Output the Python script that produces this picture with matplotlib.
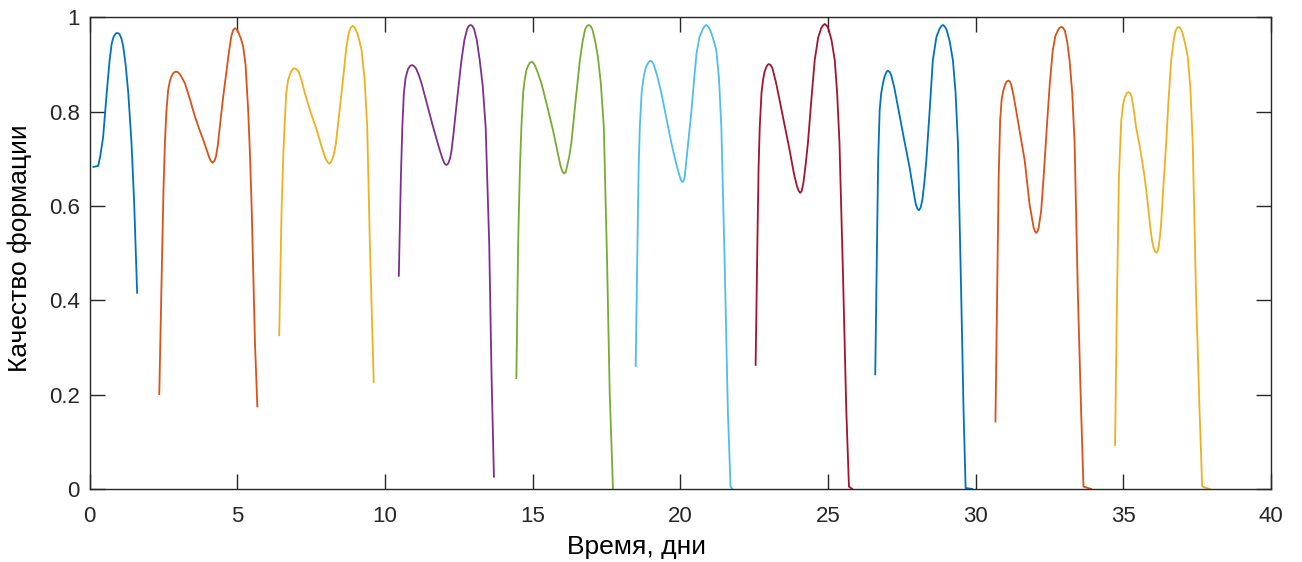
import numpy as np
import matplotlib.pyplot as plt

plt.rcParams['font.family'] = ['Liberation Sans', 'DejaVu Sans']

# Отрезки кривых (время, качество)
t1 = [0.13, 0.29, 0.36, 0.46, 0.58, 0.68, 0.75, 0.82, 0.89, 0.95, 1.01, 1.08, 1.14, 1.22, 1.31,
      1.42, 1.51, 1.61]
q1 = [0.683, 0.685, 0.705, 0.747, 0.84, 0.91, 0.945, 0.96, 0.966, 0.967, 0.965, 0.955, 0.938,
      0.9, 0.84, 0.733, 0.606, 0.416]

t2 = [2.36, 2.44, 2.5, 2.55, 2.6, 2.66, 2.72, 2.78, 2.85, 2.92, 2.99, 3.05, 3.13, 3.23, 3.4,
      3.57, 3.72, 3.85, 3.97, 4.05, 4.11, 4.17, 4.23, 4.28, 4.34, 4.41, 4.52, 4.64, 4.72, 4.8,
      4.86, 4.92, 4.98, 5.04, 5.12, 5.2, 5.28, 5.37, 5.43, 5.49, 5.6, 5.68]
q2 = [0.201, 0.45, 0.63, 0.733, 0.8, 0.846, 0.866, 0.876, 0.883, 0.885, 0.884, 0.88, 0.872,
      0.86, 0.826, 0.789, 0.762, 0.74, 0.718, 0.703, 0.695, 0.692, 0.696, 0.705, 0.728, 0.768,
      0.83, 0.888, 0.928, 0.96, 0.973, 0.977, 0.975, 0.968, 0.956, 0.938, 0.9, 0.803, 0.71,
      0.591, 0.309, 0.175]

t3 = [6.42, 6.5, 6.56, 6.61, 6.66, 6.72, 6.78, 6.83, 6.89, 6.95, 7.01, 7.08, 7.18, 7.29, 7.48,
      7.69, 7.86, 7.98, 8.05, 8.11, 8.17, 8.22, 8.28, 8.34, 8.46, 8.59, 8.69, 8.78, 8.84, 8.9,
      8.96, 9.03, 9.12, 9.21, 9.31, 9.4, 9.49, 9.62]
q3 = [0.326, 0.59, 0.71, 0.782, 0.84, 0.867, 0.879, 0.886, 0.891, 0.892, 0.89, 0.885, 0.866,
      0.839, 0.8, 0.761, 0.725, 0.702, 0.694, 0.690, 0.692, 0.700, 0.712, 0.733, 0.8, 0.874,
      0.935, 0.968, 0.978, 0.982, 0.98, 0.972, 0.955, 0.93, 0.87, 0.768, 0.52, 0.227]

t4 = [10.47, 10.54, 10.59, 10.64, 10.7, 10.78, 10.85, 10.92, 10.98, 11.05, 11.14, 11.24, 11.43,
      11.63, 11.82, 11.95, 12.02, 12.08, 12.14, 12.2, 12.25, 12.31, 12.45, 12.59, 12.69, 12.78,
      12.84, 12.9, 12.96, 13.02, 13.11, 13.21, 13.31, 13.41, 13.53, 13.61, 13.69]
q4 = [0.452, 0.662, 0.77, 0.839, 0.872, 0.89, 0.897, 0.899, 0.897, 0.892, 0.879, 0.86, 0.815,
      0.768, 0.726, 0.700, 0.690, 0.687, 0.690, 0.700, 0.716, 0.747, 0.83, 0.909, 0.952, 0.975,
      0.982, 0.984, 0.982, 0.975, 0.952, 0.909, 0.855, 0.768, 0.521, 0.238, 0.026]

t5 = [14.45, 14.51, 14.57, 14.62, 14.68, 14.73, 14.79, 14.85, 14.91, 14.96, 15.02, 15.08, 15.18,
      15.3, 15.5, 15.69, 15.84, 15.95, 16.01, 16.06, 16.12, 16.17, 16.24, 16.31, 16.45, 16.6,
      16.7, 16.78, 16.84, 16.9, 16.96, 17.02, 17.11, 17.21, 17.31, 17.41, 17.52, 17.61, 17.72]
q5 = [0.235, 0.521, 0.68, 0.768, 0.84, 0.867, 0.888, 0.898, 0.904, 0.906, 0.904, 0.898, 0.882,
      0.86, 0.81, 0.761, 0.716, 0.684, 0.673, 0.669, 0.672, 0.685, 0.705, 0.733, 0.82, 0.909,
      0.952, 0.975, 0.982, 0.984, 0.982, 0.975, 0.952, 0.917, 0.86, 0.768, 0.485, 0.203, 0.002]

t6 = [18.49, 18.55, 18.59, 18.63, 18.69, 18.76, 18.82, 18.88, 18.94, 18.99, 19.05, 19.1, 19.22,
      19.36, 19.53, 19.7, 19.86, 19.97, 20.02, 20.07, 20.11, 20.15, 20.26, 20.38, 20.47, 20.55,
      20.65, 20.76, 20.82, 20.88, 20.94, 21.0, 21.1, 21.22, 21.31, 21.39, 21.5, 21.61, 21.7,
      21.76]
q6 = [0.261, 0.521, 0.68, 0.768, 0.84, 0.874, 0.891, 0.9, 0.906, 0.908, 0.906, 0.9, 0.876,
      0.839, 0.786, 0.733, 0.69, 0.665, 0.655, 0.651, 0.653, 0.662, 0.73, 0.803, 0.87, 0.924,
      0.958, 0.975, 0.981, 0.984, 0.981, 0.975, 0.958, 0.93, 0.87, 0.768, 0.485, 0.167, 0.005,
      0.0]

t7 = [22.55, 22.61, 22.65, 22.69, 22.75, 22.8, 22.85, 22.9, 22.95, 23.0, 23.06, 23.12, 23.24,
      23.36, 23.53, 23.7, 23.85, 23.95, 24.01, 24.06, 24.11, 24.17, 24.24, 24.32, 24.43, 24.55,
      24.67, 24.77, 24.83, 24.89, 24.95, 25.01, 25.12, 25.23, 25.31, 25.39, 25.51, 25.62, 25.71,
      25.82]
q7 = [0.263, 0.521, 0.68, 0.768, 0.84, 0.867, 0.884, 0.893, 0.899, 0.901, 0.899, 0.892, 0.862,
      0.825, 0.772, 0.719, 0.668, 0.642, 0.632, 0.628, 0.632, 0.650, 0.686, 0.733, 0.82, 0.909,
      0.958, 0.977, 0.983, 0.986, 0.983, 0.977, 0.952, 0.909, 0.84, 0.733, 0.45, 0.167, 0.005,
      0.0]

t8 = [26.6, 26.66, 26.7, 26.75, 26.8, 26.86, 26.91, 26.95, 26.99, 27.03, 27.09, 27.14, 27.25,
      27.37, 27.56, 27.76, 27.9, 27.97, 28.03, 28.08, 28.14, 28.2, 28.26, 28.33, 28.44, 28.55,
      28.67, 28.77, 28.83, 28.89, 28.95, 29.01, 29.12, 29.23, 29.32, 29.4, 29.51, 29.59, 29.66,
      29.88]
q8 = [0.243, 0.521, 0.7, 0.803, 0.838, 0.86, 0.873, 0.88, 0.885, 0.887, 0.884, 0.878, 0.85,
      0.81, 0.747, 0.683, 0.63, 0.605, 0.594, 0.591, 0.597, 0.615, 0.648, 0.697, 0.8, 0.909,
      0.958, 0.975, 0.981, 0.984, 0.981, 0.975, 0.95, 0.909, 0.84, 0.733, 0.415, 0.167, 0.002,
      0.0]

t9 = [30.67, 30.72, 30.78, 30.83, 30.88, 30.94, 31.0, 31.05, 31.11, 31.16, 31.2, 31.28, 31.37,
      31.5, 31.66, 31.82, 31.96, 32.01, 32.05, 32.09, 32.13, 32.22, 32.31, 32.41, 32.51, 32.61,
      32.7, 32.78, 32.84, 32.9, 32.96, 33.02, 33.1, 33.18, 33.27, 33.35, 33.46, 33.57, 33.65,
      33.91]
q9 = [0.143, 0.38, 0.662, 0.782, 0.826, 0.846, 0.858, 0.864, 0.866, 0.864, 0.858, 0.835, 0.803,
      0.755, 0.697, 0.606, 0.555, 0.546, 0.543, 0.546, 0.553, 0.591, 0.67, 0.768, 0.86, 0.93,
      0.961, 0.972, 0.978, 0.98, 0.978, 0.972, 0.948, 0.909, 0.84, 0.733, 0.415, 0.167, 0.005,
      0.0]

t10 = [34.72, 34.78, 34.85, 34.93, 34.99, 35.05, 35.11, 35.17, 35.23, 35.28, 35.35, 35.43, 35.58,
       35.72, 35.82, 35.91, 35.97, 36.02, 36.07, 36.11, 36.16, 36.2, 36.24, 36.28, 36.36, 36.45,
       36.53, 36.62, 36.7, 36.76, 36.81, 36.87, 36.93, 36.99, 37.08, 37.18, 37.27, 37.35, 37.46,
       37.58, 37.67, 37.92]
q10 = [0.093, 0.38, 0.662, 0.782, 0.815, 0.83, 0.839, 0.842, 0.839, 0.832, 0.806, 0.768, 0.718,
       0.662, 0.61, 0.556, 0.528, 0.512, 0.504, 0.501, 0.504, 0.515, 0.535, 0.563, 0.645, 0.733,
       0.825, 0.909, 0.95, 0.97, 0.977, 0.98, 0.977, 0.97, 0.948, 0.917, 0.85, 0.733, 0.415,
       0.167, 0.005, 0.0]

segments = [(t1, q1), (t2, q2), (t3, q3), (t4, q4), (t5, q5),
            (t6, q6), (t7, q7), (t8, q8), (t9, q9), (t10, q10)]

# цвета MATLAB по умолчанию
colors = ['#0072BD', '#D95319', '#EDB120', '#7E2F8E', '#77AC30',
          '#4DBEEE', '#A2142F', '#0072BD', '#D95319', '#EDB120']

fig = plt.figure(figsize=(13.02, 5.62), dpi=100)
ax = fig.add_axes([0.0688, 0.130, 0.9074, 0.839])

for (t, q), c in zip(segments, colors):
    ax.plot(t, q, color=c, linewidth=1.3, solid_joinstyle='round')

ax.set_xlim(0, 40)
ax.set_ylim(0, 1)
ax.set_xticks(np.arange(0, 41, 5))
ax.set_yticks([0, 0.2, 0.4, 0.6, 0.8, 1])
ax.set_yticklabels(['0', '0.2', '0.4', '0.6', '0.8', '1'])

axis_col = '#262626'
for s in ax.spines.values():
    s.set_color(axis_col)
    s.set_linewidth(1.0)
ax.tick_params(direction='in', length=11, width=1.0, colors=axis_col,
               labelsize=16, top=True, right=True)
ax.tick_params(axis='x', pad=12)
ax.tick_params(axis='y', pad=7)

ax.set_xlabel('Время, дни', fontsize=19, color='#000000')
ax.xaxis.set_label_coords(0.4627, -0.097)
ax.set_ylabel('Качество формации', fontsize=19, color='#000000')
ax.yaxis.set_label_coords(-0.049, 0.51)

fig.savefig('out.png', dpi=100)
